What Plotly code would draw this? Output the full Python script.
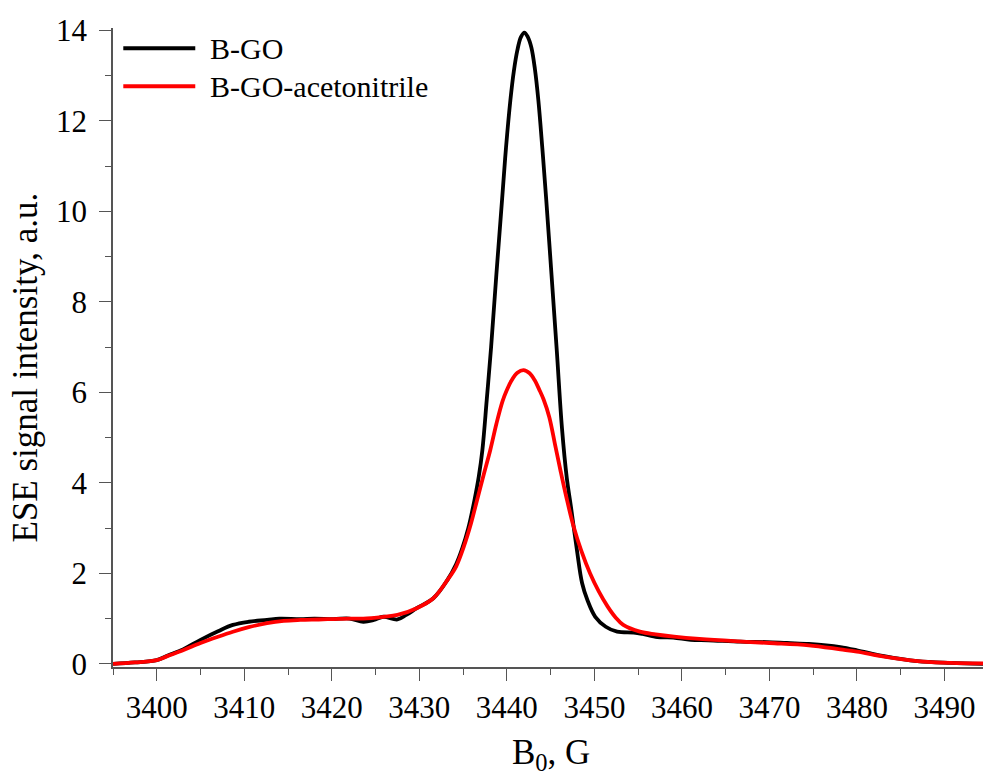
import plotly.graph_objects as go

# B-GO (black)
bgo_x = [3395, 3397.5, 3400, 3401.2, 3403, 3405, 3407, 3408.7, 3410.5, 3412.6, 3414, 3416.4,
         3418, 3420.2, 3422, 3423.6, 3424.8, 3425.9, 3427.5, 3428.5, 3429.7, 3431.6, 3433.2,
         3434.2, 3434.9, 3435.6, 3436.3, 3436.8, 3437.2, 3437.7, 3438.2, 3438.8, 3439.45,
         3439.9, 3440.4, 3440.8, 3441.2, 3441.6, 3442.0, 3442.4, 3442.8, 3443.2, 3443.6,
         3444.05, 3444.5, 3445.1, 3445.7, 3446.3, 3446.85, 3447.3,
         3448.0, 3448.6, 3449.2, 3450.1, 3451.3, 3452.6, 3454.5, 3455.5, 3457.2, 3459, 3461,
         3463, 3466.7, 3469.7, 3472, 3474.5, 3476.5, 3478.1, 3480, 3483.1, 3486.9, 3490.7, 3494.4]
bgo_y = [0.00, 0.03, 0.08, 0.18, 0.32, 0.53, 0.72, 0.86, 0.93, 0.97, 1.00, 0.99,
         1.00, 0.99, 1.00, 0.93, 0.97, 1.04, 0.98, 1.08, 1.23, 1.45, 1.85,
         2.20, 2.55, 3.00, 3.62, 4.15, 4.72, 5.83, 7.00, 8.60, 10.25,
         11.40, 12.45, 13.10, 13.56, 13.85, 13.95, 13.85, 13.62, 13.15, 12.45,
         11.40, 10.25, 8.60, 6.93, 5.20, 4.10, 3.50,
         2.52, 1.78, 1.41, 1.04, 0.82, 0.71, 0.69, 0.66, 0.59, 0.58, 0.53,
         0.52, 0.49, 0.48, 0.46, 0.44, 0.41, 0.37, 0.30, 0.17, 0.06, 0.02, 0.00]

# B-GO-acetonitrile (red)
acn_x = [3395, 3397.5, 3400, 3401.2, 3403, 3405, 3407, 3408.7, 3410.5, 3412.6, 3414.5, 3416.4,
         3418.5, 3420.2, 3422, 3423.6, 3425.9, 3427.5, 3429.7, 3431.6, 3433.2, 3434.2, 3435.1,
         3435.9, 3436.6, 3437.35, 3438.1, 3438.8, 3439.5, 3440.0, 3440.5, 3441.2, 3441.9,
         3442.6, 3443.2, 3443.7, 3444.2, 3444.85, 3445.5, 3446.15, 3446.8, 3447.6, 3448.5,
         3449.5, 3450.5, 3451.5, 3452.4, 3453.3, 3455.2, 3457, 3459.1, 3462, 3466, 3470, 3474.5,
         3478.1, 3480, 3483.1, 3486.9, 3490.7, 3494.4]
acn_y = [0.00, 0.03, 0.08, 0.17, 0.30, 0.46, 0.60, 0.71, 0.81, 0.90, 0.95, 0.97,
         0.98, 0.99, 1.00, 1.00, 1.04, 1.08, 1.23, 1.45, 1.85, 2.15, 2.60,
         3.10, 3.62, 4.18, 4.72, 5.30, 5.80, 6.05, 6.25, 6.43, 6.49,
         6.42, 6.26, 6.06, 5.84, 5.45, 4.85, 4.25, 3.68, 3.05, 2.50,
         2.00, 1.60, 1.27, 1.03, 0.86, 0.71, 0.65, 0.60, 0.55, 0.50, 0.46, 0.41,
         0.32, 0.27, 0.16, 0.06, 0.02, 0.01]

series_names = ["B-GO", "B-GO-acetonitrile"]
series_colors = ["#000000", "#ff0000"]

FONT = "Liberation Serif"

fig = go.Figure()
fig.add_trace(go.Scatter(x=bgo_x, y=bgo_y, mode="lines", name=series_names[0],
                         line=dict(color=series_colors[0], width=3.8, shape="spline", smoothing=1.0),
                         showlegend=False))
fig.add_trace(go.Scatter(x=acn_x, y=acn_y, mode="lines", name=series_names[1],
                         line=dict(color=series_colors[1], width=3.8, shape="spline", smoothing=1.0),
                         showlegend=False))

# manual legend (key lines + labels) in paper coordinates
W, H = 983, 778
L, R, T, B = 112.7, 0, 27.7, 110.7
pw, ph = W - L - R, H - T - B

def px_to_paper_x(px):
    return (px - L) / pw

def px_to_paper_y(py):
    return (H - B - py) / ph

legend_rows = [48, 86]
for name, color, yrow in zip(series_names, series_colors, legend_rows):
    fig.add_shape(type="line", xref="paper", yref="paper",
                  x0=px_to_paper_x(123), x1=px_to_paper_x(195),
                  y0=px_to_paper_y(yrow), y1=px_to_paper_y(yrow),
                  line=dict(color=color, width=4))
    fig.add_annotation(xref="paper", yref="paper", x=px_to_paper_x(208), y=px_to_paper_y(yrow),
                       xanchor="left", yanchor="middle", text=name, showarrow=False,
                       font=dict(family=FONT, size=30, color="black"))

# axis titles
fig.add_annotation(xref="paper", yref="paper", x=px_to_paper_x(551), y=0, yanchor="top",
                   yshift=-64, text="B<sub>0</sub>, G", showarrow=False,
                   font=dict(family=FONT, size=35, color="black"))
fig.add_annotation(xref="paper", yref="paper", x=0, y=px_to_paper_y(368), xanchor="right",
                   xshift=-66, textangle=-90, text="ESE signal intensity, a.u.", showarrow=False,
                   font=dict(family=FONT, size=35, color="black"))

axis_color = "#555555"
fig.update_xaxes(range=[3395, 3494.4], tickmode="linear", tick0=3400, dtick=10,
                 ticks="outside", ticklen=12, tickwidth=1.2, tickcolor=axis_color,
                 minor=dict(tick0=3395, dtick=5, ticks="outside", ticklen=6, tickwidth=1.2,
                            tickcolor=axis_color),
                 showline=True, linecolor=axis_color, linewidth=1.5, mirror=False,
                 showgrid=False, zeroline=False,
                 tickfont=dict(family=FONT, size=31, color="black"))
fig.update_yaxes(range=[-0.07, 14.05], tickmode="linear", tick0=0, dtick=2,
                 ticks="outside", ticklen=12, tickwidth=1.2, tickcolor=axis_color,
                 minor=dict(dtick=1, ticks="outside", ticklen=6, tickwidth=1.2,
                            tickcolor=axis_color),
                 showline=True, linecolor=axis_color, linewidth=1.5, mirror=False,
                 showgrid=False, zeroline=False, ticklabelstandoff=6,
                 tickfont=dict(family=FONT, size=31, color="black"))

fig.update_layout(width=W, height=H, margin=dict(l=L, r=R, t=T, b=B, autoexpand=False),
                  paper_bgcolor="white", plot_bgcolor="white", showlegend=False)

fig.write_html("out.html")
